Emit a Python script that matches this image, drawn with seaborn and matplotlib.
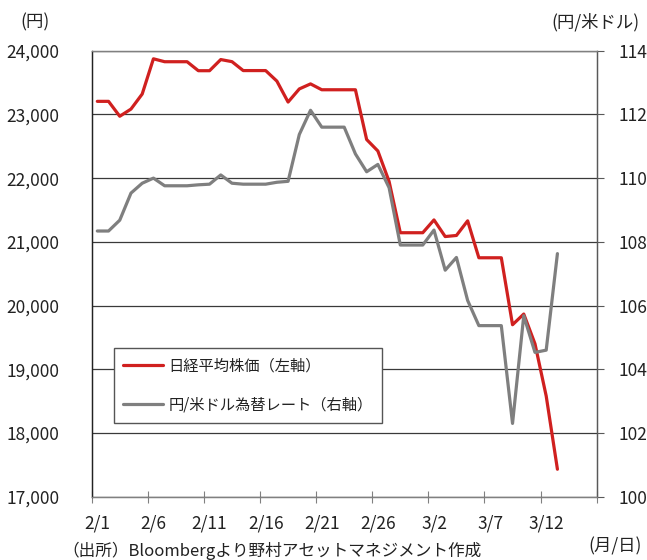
import numpy as np
import pandas as pd
import matplotlib
matplotlib.use("Agg")
import matplotlib.pyplot as plt
import seaborn as sns

# ---- data (calendar days 2/1 .. 3/13) ----
dates = ["2/1", "2/2", "2/3", "2/4", "2/5", "2/6", "2/7", "2/8", "2/9", "2/10",
         "2/11", "2/12", "2/13", "2/14", "2/15", "2/16", "2/17", "2/18", "2/19", "2/20",
         "2/21", "2/22", "2/23", "2/24", "2/25", "2/26", "2/27", "2/28", "2/29", "3/1",
         "3/2", "3/3", "3/4", "3/5", "3/6", "3/7", "3/8", "3/9", "3/10", "3/11",
         "3/12", "3/13"]
nikkei = [23205, 23205, 22971, 23084, 23320, 23873, 23827, 23827, 23827, 23686,
          23686, 23861, 23828, 23688, 23688, 23688, 23523, 23194, 23400, 23479,
          23387, 23387, 23387, 23387, 22606, 22426, 21948, 21143, 21143, 21143,
          21344, 21083, 21100, 21330, 20750, 20750, 20750, 19699, 19867, 19400,
          18580, 17431]
usdjpy = [108.34, 108.34, 108.68, 109.53, 109.84, 110.00, 109.76, 109.76, 109.76, 109.79,
          109.81, 110.10, 109.84, 109.81, 109.81, 109.81, 109.87, 109.90, 111.37, 112.13,
          111.60, 111.60, 111.60, 110.76, 110.20, 110.43, 109.70, 107.90, 107.90, 107.90,
          108.37, 107.11, 107.51, 106.16, 105.37, 105.37, 105.37, 102.30, 105.68, 104.53,
          104.60, 107.63]
tick_labels = ["2/1", "2/6", "2/11", "2/16", "2/21", "2/26", "3/2", "3/7", "3/12"]
n_axis_days = 45  # 2/1 .. 3/16 shown on the axis

name_nk = "日経平均株価（左軸）"
name_fx = "円/米ドル為替レート（右軸）"

df = pd.DataFrame({"day": np.arange(len(dates)), "date": dates,
                   "nikkei": nikkei, "usdjpy": usdjpy})

sns.set_theme(style="white")
plt.rcParams["font.family"] = ["Noto Sans CJK JP", "DejaVu Sans"]
plt.rcParams["axes.unicode_minus"] = False

RED = "#D0201F"
GRAY = "#7F7F7F"

fig = plt.figure(figsize=(6.47, 5.60), dpi=100)
ax = fig.add_axes([91.7 / 647, 1 - 496.7 / 560, 505 / 647, 446 / 560])
ax2 = ax.twinx()

sns.lineplot(data=df, x="day", y="nikkei", ax=ax, color=RED, lw=2.3,
             label=name_nk, legend=False)
sns.lineplot(data=df, x="day", y="usdjpy", ax=ax2, color=GRAY, lw=2.3,
             label=name_fx, legend=False)

# x axis
ax.set_xlim(-0.5, n_axis_days - 0.5)
pos = [dates.index(t) for t in tick_labels]
ax.set_xticks(pos)
ax.set_xticklabels(tick_labels, fontsize=12.5)
ax.tick_params(axis="x", which="major", length=0, pad=13, colors="#222222")
ax.set_xticks(np.arange(-0.5, n_axis_days, 1), minor=True)
ax.tick_params(axis="x", which="minor", direction="in", length=3.5,
               width=0.8, color="#808080")
sec = ax.secondary_xaxis("bottom")
sec.set_xticks(np.arange(-0.5, n_axis_days, 5))
sec.set_xticklabels([])
sec.tick_params(axis="x", direction="inout", length=9, width=0.8, color="#808080")
sec.spines["bottom"].set_visible(False)

# left y axis
ax.set_ylim(17000, 24000)
ax.set_yticks(np.arange(17000, 24001, 1000))
ax.set_yticklabels([f"{v:,}" for v in range(17000, 24001, 1000)], fontsize=12.5)
ax.tick_params(axis="y", length=0, pad=23, colors="#222222")
ax.set_xlabel("")
ax.set_ylabel("")
ax.grid(axis="y", color="#3a3a3a", lw=0.9)
ax.grid(axis="x", visible=False)

# right y axis
ax2.set_ylim(100, 114)
ax2.set_yticks(np.arange(100, 115, 2))
ax2.set_yticklabels([str(v) for v in range(100, 115, 2)], fontsize=12.5)
ax2.tick_params(axis="y", direction="out", length=5, width=0.8, pad=11,
                color="#595959", colors="#222222")
ax2.set_ylabel("")
ax2.grid(False)

for a in (ax, ax2):
    a.spines["left"].set_color("#222222")
    a.spines["right"].set_color("#595959")
    a.spines["bottom"].set_color("#808080")
    a.spines["top"].set_color("#808080")
    for s in a.spines.values():
        s.set_linewidth(0.9)

# legend
h1, l1 = ax.get_legend_handles_labels()
h2, l2 = ax2.get_legend_handles_labels()
leg = ax2.legend(h1 + h2, l1 + l2, loc="upper left",
                 bbox_to_anchor=(0.044, 0.333), borderaxespad=0,
                 fontsize=11, frameon=True, fancybox=False,
                 edgecolor="#555555", handlelength=2.6, handletextpad=0.35,
                 labelspacing=1.45, borderpad=0.6)
leg.get_frame().set_linewidth(1.0)
leg.get_frame().set_facecolor("white")
leg.get_frame().set_alpha(1)
for t in leg.get_texts():
    t.set_color("#222222")

# texts
fig.text(35 / 647, 1 - 22 / 560, "(円)", ha="center", va="center", fontsize=12.5, color="#222222")
fig.text(595 / 647, 1 - 22 / 560, "(円/米ドル)", ha="center", va="center", fontsize=12.5, color="#222222")
fig.text(615 / 647, 1 - 546 / 560, "(月/日)", ha="center", va="center", fontsize=12.5, color="#222222")
fig.text(62 / 647, 1 - 551 / 560, "（出所）Bloombergより野村アセットマネジメント作成",
         ha="left", va="center", fontsize=12, color="#222222")

fig.savefig("out.png", dpi=100)
